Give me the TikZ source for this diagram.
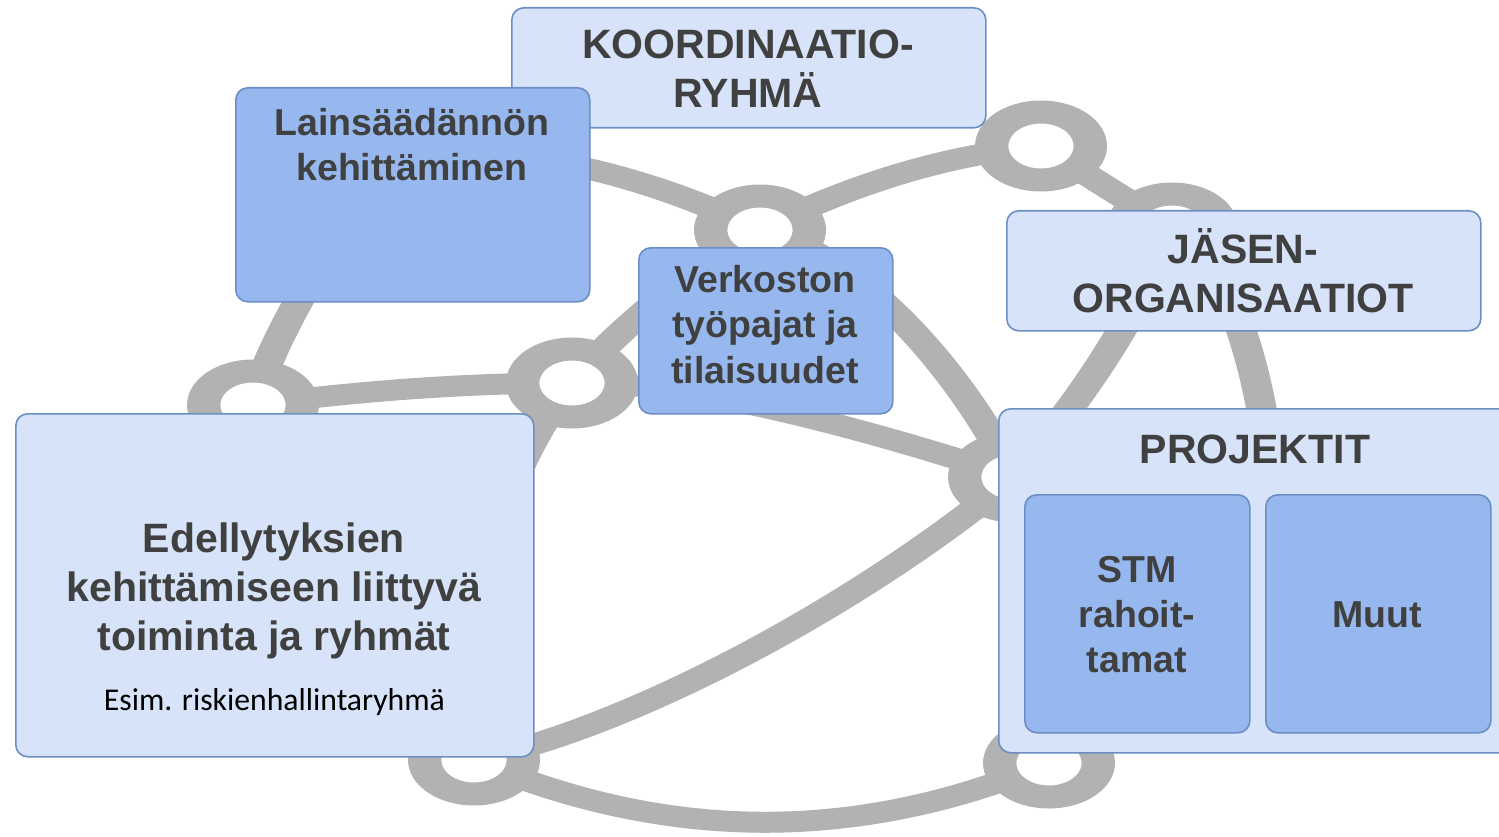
\documentclass[tikz,border=0pt]{standalone}
\usepackage{fontspec}
\setmainfont{Liberation Sans}
\newfontfamily\carlito{Carlito}
\definecolor{lightfill}{RGB}{214,227,248}
\definecolor{darkfill}{RGB}{150,184,239}
\definecolor{boxline}{RGB}{108,142,196}
\definecolor{netgray}{RGB}{178,178,178}
\definecolor{txt}{RGB}{64,64,64}
\newcommand\topstrut{\rule{0pt}{1em}}
\begin{document}
\begin{tikzpicture}[x=1pt,y=-1pt,
  netline/.style={draw=netgray, line width=21pt},
  ring/.style={circle, draw=netgray, fill=white, line width=23pt, minimum size=68pt, inner sep=0pt},
  lbox/.style={draw=boxline, line width=1.6pt, fill=lightfill, rounded corners=12pt, anchor=north west, inner sep=0pt},
  dbox/.style={draw=boxline, line width=1.6pt, fill=darkfill, rounded corners=12pt, anchor=north west, inner sep=0pt},
  bigtitle/.style={text=txt, align=center, inner sep=0pt, anchor=north, font=\bfseries\fontsize{41}{49}\selectfont},
  smalltitle/.style={text=txt, align=center, inner sep=0pt, anchor=north, font=\bfseries\fontsize{37.5}{45}\selectfont}]
\useasboundingbox (0,0) rectangle (1499,837);
% ---------- network (stretched horizontally) ----------
\begin{scope}[x=0.689655pt, y=-1pt, transform canvas={xscale=1.45}]
  \coordinate (R1) at (253,405);
  \coordinate (R2) at (572,383);
  \coordinate (R3) at (760,230);
  \coordinate (R4) at (1041,146);
  \coordinate (R5) at (1172,228);
  \coordinate (R6) at (1014,477);
  \coordinate (R7) at (474,760);
  \coordinate (R8) at (1049,763);
  \coordinate (H1) at (405,150);
  \coordinate (H2) at (1275,560);
  \path[netline] (R1) .. controls (359,391) and (466,383) .. (R2);
  \path[netline] (R2) .. controls (612,335) and (700,260) .. (R3);
  \path[netline] (R2) .. controls (520,440) and (440,620) .. (R7);
  \path[netline] (R1) .. controls (270,340) and (340,220) .. (H1);
  \path[netline] (H1) .. controls (523,147) and (642,173) .. (R3);
  \path[netline] (R3) .. controls (854,183) and (947,155) .. (R4);
  \path[netline] (R4) -- (R5);
  \path[netline] (R5) .. controls (1139,311) and (1087,394) .. (R6);
  \path[netline] (R5) .. controls (1240,265) and (1275,420) .. (H2);
  \path[netline] (R3) .. controls (860,255) and (960,370) .. (R6);
  \path[netline] (R2) .. controls (700,380) and (900,440) .. (R6);
  \path[netline] (R6) .. controls (860,605) and (630,728) .. (R7);
  \path[netline] (R7) .. controls (666,842) and (857,843) .. (R8);
  \foreach \r in {R1,R2,R3,R4,R5,R6,R7,R8}{
    \node[ring] (ring\r) at (\r) {};
  }
\end{scope}
% ---------- boxes ----------
\node[lbox, minimum width=474pt, minimum height=120pt] (koord) at (511,7) {};
\node[bigtitle] (koordtxt) at (748,17) {\topstrut KOORDINAATIO-\\RYHMÄ};
\node[dbox, minimum width=354pt, minimum height=214pt] (law) at (235,87) {};
\node[smalltitle] (lawtxt) at (412,97.5) {\topstrut Lainsäädännön\\kehittäminen};
\node[dbox, minimum width=254pt, minimum height=166pt] (verk) at (638,247) {};
\node[smalltitle, font=\bfseries\fontsize{37.5}{45.5}\selectfont] (verktxt) at (765,254.5) {\topstrut Verkoston\\työpajat ja\\tilaisuudet};
\node[lbox, minimum width=474pt, minimum height=120pt] (jasen) at (1006,210) {};
\node[bigtitle] (jasentxt) at (1243,222) {\topstrut JÄSEN-\\ORGANISAATIOT};
\node[lbox, minimum width=518pt, minimum height=343pt] (edel) at (15,413) {};
\node[bigtitle] (edeltxt) at (274,511) {\topstrut Edellytyksien\\kehittämiseen liittyvä\\toiminta ja ryhmät};
\node[anchor=base, inner sep=0pt, font=\carlito\fontsize{31.7}{38}\selectfont, text=black] (esimtxt) at (274.5,710) {Esim. riskienhallintaryhmä};
\node[lbox, minimum width=517pt, minimum height=344pt] (proj) at (998,408) {};
\node[bigtitle] (projtxt) at (1255,422) {\topstrut PROJEKTIT};
\node[dbox, minimum width=225pt, minimum height=238pt] (stm) at (1024,494) {};
\node[smalltitle] (stmtxt) at (1137,544.5) {\topstrut STM\\rahoit-\\tamat};
\node[dbox, minimum width=225pt, minimum height=238pt] (muut) at (1265,494) {};
\node[smalltitle] (muuttxt) at (1377,589.5) {\topstrut Muut};
\end{tikzpicture}
\end{document}
